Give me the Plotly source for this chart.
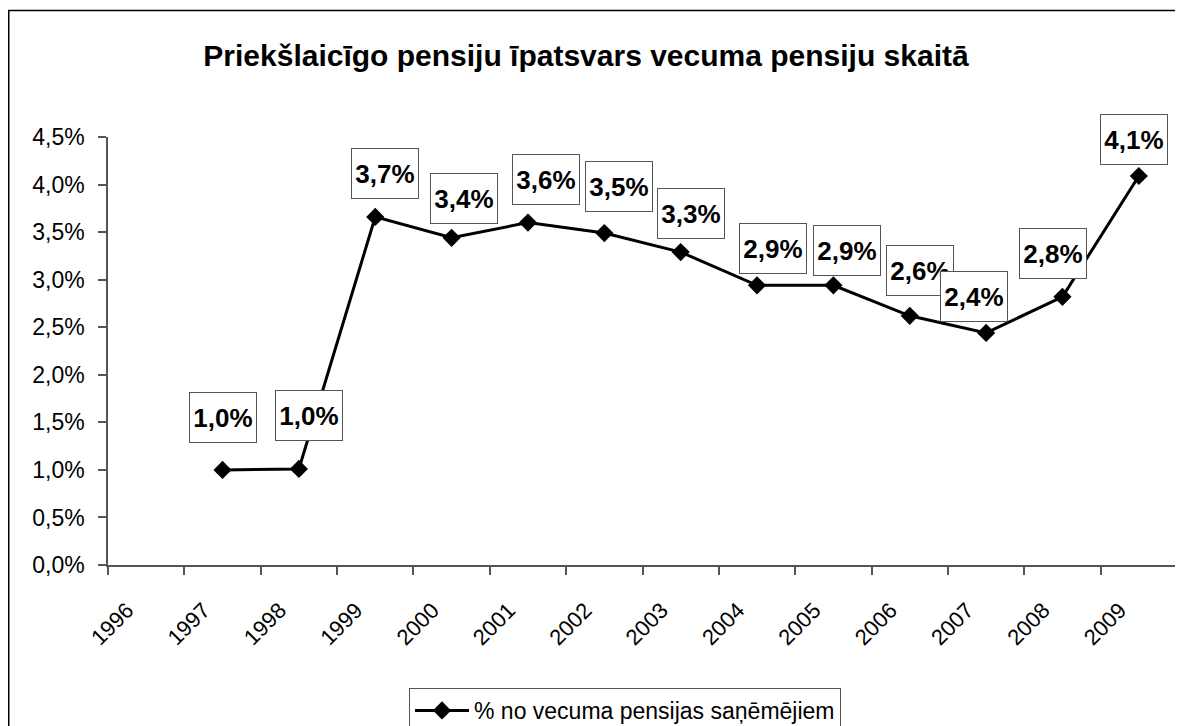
import plotly.graph_objects as go

years = ["1996", "1997", "1998", "1999", "2000", "2001", "2002", "2003",
         "2004", "2005", "2006", "2007", "2008", "2009"]
values = [None, 1.00, 1.01, 3.66, 3.44, 3.60, 3.49, 3.29, 2.94, 2.94, 2.62, 2.44, 2.82, 4.09]
series_name = "% no vecuma pensijas saņēmējiem"
title_text = "Priekšlaicīgo pensiju īpatsvars vecuma pensiju skaitā"
y_ticks = [0, 0.5, 1.0, 1.5, 2.0, 2.5, 3.0, 3.5, 4.0, 4.5]
y_tick_labels = ["0,0%", "0,5%", "1,0%", "1,5%", "2,0%", "2,5%", "3,0%", "3,5%", "4,0%", "4,5%"]

# label box offsets (pixels) relative to each point
label_dx = [0, 0, 10, 10, 12, 18, 15, 10, 16, 14, 10, -12, -9, -5]
label_dy = [0, 52, 53, 43, 39, 43, 47, 39, 37, 35, 45, 36, 43, 37]

FONT = "Liberation Sans, Arial, sans-serif"

fig = go.Figure()
fig.add_trace(go.Scatter(
    x=years, y=values, mode="lines+markers", name=series_name,
    line=dict(color="black", width=3),
    marker=dict(symbol="diamond", size=14, color="black"),
    connectgaps=False, hoverinfo="skip",
))

for i, (yr, v, dx, dy) in enumerate(zip(years, values, label_dx, label_dy)):
    if v is None:
        continue
    fig.add_annotation(
        x=i, y=v, xref="x", yref="y", showarrow=False,
        text="<b>" + f"{v:.1f}".replace(".", ",") + "%</b>",
        font=dict(family=FONT, size=26, color="black"),
        xshift=dx, yshift=dy, width=64, height=47, align="center", valign="middle",
        bgcolor="white", bordercolor="#555555", borderwidth=1, borderpad=1,
    )

# page body adds an 8px offset; work in screen pixels and convert
OFF = 8
W, H = 1183 - OFF, 726 - OFF
L, R, T, B = 108 - OFF, 1177 - OFF, 137 - OFF, 565 - OFF
pw, ph = R - L, B - T

def px2paper_x(px):
    return (px - OFF - L) / pw

def px2paper_y(py):
    return (B - (py - OFF)) / ph

fig.update_layout(
    width=W, height=H,
    margin=dict(l=L, r=W - R, t=T, b=H - B, pad=0, autoexpand=False),
    paper_bgcolor="white", plot_bgcolor="white",
    font=dict(family=FONT, color="black"),
    title=dict(text=f"<b>{title_text}</b>", x=(586 - OFF) / W, xref="container", xanchor="center",
               y=1 - (55 - OFF) / H, yref="container", yanchor="middle",
               font=dict(family=FONT, size=30, color="black")),
    showlegend=True,
    legend=dict(
        x=px2paper_x(409), y=px2paper_y(688), xanchor="left", yanchor="top",
        bordercolor="#555555", borderwidth=1, bgcolor="white",
        font=dict(family=FONT, size=23, color="black"),
        itemwidth=54,
    ),
    xaxis=dict(
        type="category", categoryorder="array", categoryarray=years,
        range=[-0.5, len(years) - 0.5],
        showgrid=False, zeroline=False,
        showline=True, linecolor="#555555", linewidth=1.5,
        ticks="outside", tickson="boundaries", ticklen=8, tickcolor="#555555", tickwidth=1.5,
        tickangle=-45, tickfont=dict(family=FONT, size=22, color="black"),
        ticklabelstandoff=22, ticklabelshift=-19,
    ),
    yaxis=dict(
        range=[0, 4.5], tickmode="array", tickvals=y_ticks, ticktext=y_tick_labels,
        showgrid=False, zeroline=False,
        showline=True, linecolor="#555555", linewidth=1.5,
        ticks="outside", ticklen=8, tickcolor="#555555", tickwidth=1.5,
        tickfont=dict(family=FONT, size=23, color="black"),
        ticklabelstandoff=9,
    ),
    shapes=[dict(type="rect", xref="paper", yref="paper",
                 x0=px2paper_x(8.75), x1=px2paper_x(1200),
                 y0=px2paper_y(760), y1=px2paper_y(10.5),
                 line=dict(color="black", width=1.5), fillcolor="rgba(0,0,0,0)",
                 layer="below")],
)

fig.write_html("out.html")
